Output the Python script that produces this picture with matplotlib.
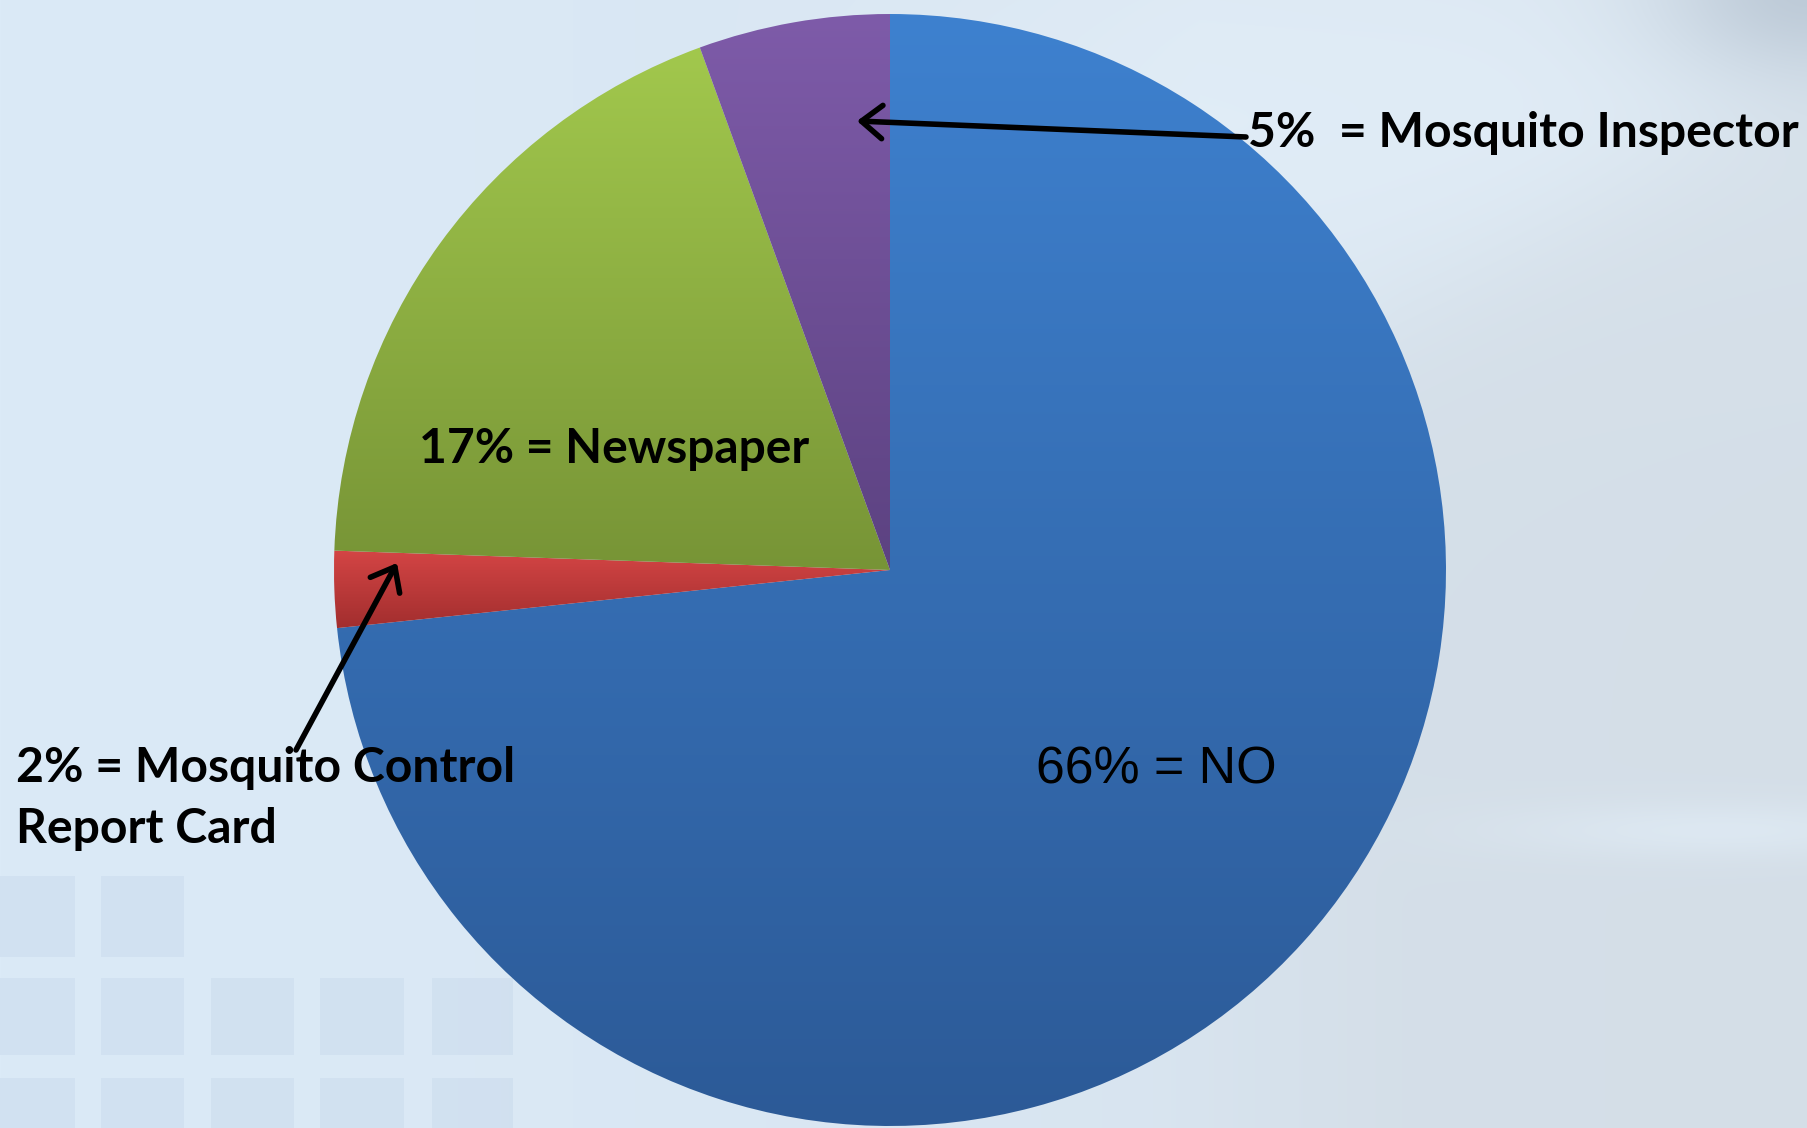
import numpy as np
import matplotlib
matplotlib.use("Agg")
import matplotlib.pyplot as plt
from matplotlib import font_manager as fm

W, H = 1808, 1128

# Survey answers (percent of respondents)
categories = ["NO", "Mosquito Control Report Card", "Newspaper", "Mosquito Inspector"]
shares = [66, 2, 17, 5]

# Slice gradient colours (top -> bottom)
top_colors = ["#3e81cf", "#d44545", "#a2c84d", "#7e5ba9"]
bottom_colors = ["#2c5a97", "#a22e2e", "#779436", "#5c4281"]


def has_font(name):
    try:
        fm.findfont(fm.FontProperties(family=name), fallback_to_default=False)
        return True
    except Exception:
        return False


bold_family = "Lato" if has_font("Lato") else "DejaVu Sans"
plain_family = "Liberation Sans" if has_font("Liberation Sans") else "DejaVu Sans"

fig = plt.figure(figsize=(W / 100, H / 100), dpi=100)
ax = fig.add_axes([0, 0, 1, 1])


def py(y):
    """Convert a top-down pixel row into the axes' y coordinate."""
    return H - y


# ---- soft blue slide background -------------------------------------------
yy, xx = np.mgrid[0:H, 0:W].astype(float)
u = xx / W
left_c = np.array([219, 234, 247], float)
right_c = np.array([214, 224, 234], float)
bg = left_c + (right_c - left_c) * (u[..., None] ** 1.4)

# light haze along the top
light = np.array([226, 238, 248], float)
wt = np.exp(-((yy - 120) / 260.0) ** 2) * np.clip((xx - 700) / 500.0, 0, 1) * 0.8
bg = bg * (1 - wt[..., None]) + light * wt[..., None]

# grey cloud below the diagonal on the right
y_line = 420 - (xx - 1250) * (350.0 / 558.0)
g = 1 / (1 + np.exp(-(yy - y_line) / 45.0)) * np.clip((xx - 1150) / 250.0, 0, 1)
grey = np.array([212, 222, 231], float)
bg = bg * (1 - g[..., None] * 0.8) + grey * (g[..., None] * 0.8)

# darker corner at the top right
c = np.exp(-(((xx - 1808) / 150.0) ** 2 + ((yy + 10) / 90.0) ** 2))
corner = np.array([190, 203, 216], float)
bg = bg * (1 - c[..., None]) + corner * c[..., None]

# pale streak lower right
s = np.exp(-(((xx - 1720) / 220.0) ** 2 + ((yy - 830) / 28.0) ** 2)) * 0.6
bg = bg * (1 - s[..., None]) + light * s[..., None]

# faint window panes in the lower left
pane = np.array([192, 211, 231], float)
rows = [(876, 957, 2), (978, 1055, 5), (1078, 1128, 5)]
cols = [(0, 75), (101, 184), (211, 294), (320, 404), (432, 513)]
for r0, r1, ncol in rows:
    for c0, c1 in cols[:ncol]:
        bg[r0:r1, c0:c1] = bg[r0:r1, c0:c1] * 0.65 + pane * 0.35

ax.imshow(bg.astype(np.uint8), extent=(0, W, 0, H), origin="upper",
          zorder=0, interpolation="bilinear", aspect="auto")

# ---- pie ------------------------------------------------------------------
cx, cy, radius = 890, py(570), 556
wedges, _ = ax.pie(shares, startangle=90, counterclock=False,
                   center=(cx, cy), radius=radius, frame=True,
                   wedgeprops=dict(linewidth=0))

for w, ct, cb in zip(wedges, top_colors, bottom_colors):
    ext = w.get_path().get_extents(w.get_patch_transform())
    t = np.linspace(0, 1, 256)[:, None, None]
    c_top = np.array(matplotlib.colors.to_rgb(ct))
    c_bot = np.array(matplotlib.colors.to_rgb(cb))
    grad = c_bot + (c_top - c_bot) * t
    grad = np.repeat(grad, 2, axis=1)
    im = ax.imshow(grad, extent=(ext.x0, ext.x1, ext.y0, ext.y1), origin="lower",
                   aspect="auto", interpolation="bilinear", zorder=1)
    im.set_clip_path(w)
    w.set_facecolor("none")
    w.set_edgecolor("none")

ax.set_xlim(0, W)
ax.set_ylim(0, H)
ax.axis("off")

# ---- labels ---------------------------------------------------------------
renderer = fig.canvas.get_renderer()


def fitted_text(x, y, s, width, **kw):
    t = ax.text(x, py(y), s, ha="left", va="baseline", fontsize=30, zorder=3, **kw)
    bb = t.get_window_extent(renderer)
    size = 30 * width / bb.width
    t.set_fontsize(size)
    return size


fitted_text(1248, 147, f"{shares[3]}%  = {categories[3]}", 550,
            family=bold_family, weight="bold")
fitted_text(419, 463, f"{shares[2]}% = {categories[2]}", 390,
            family=bold_family, weight="bold")
size2 = fitted_text(16, 782, f"{shares[1]}% = Mosquito Control", 498,
                    family=bold_family, weight="bold")
ax.text(16, py(843), "Report Card", ha="left", va="baseline", fontsize=size2,
        family=bold_family, weight="bold", zorder=3)
fitted_text(1036, 783, f"{shares[0]}% = {categories[0]}", 241,
            family=plain_family)

# ---- pointer arrows -------------------------------------------------------
arrow = dict(arrowstyle="->,head_length=0.5,head_width=0.4", lw=4,
             color="black", shrinkA=0, shrinkB=0, mutation_scale=30)
ax.annotate("", xy=(857, py(121)), xytext=(1246, py(137)), arrowprops=arrow, zorder=4)
ax.annotate("", xy=(397, py(563)), xytext=(296, py(750)), arrowprops=arrow, zorder=4)

fig.savefig("out.png", dpi=100)
